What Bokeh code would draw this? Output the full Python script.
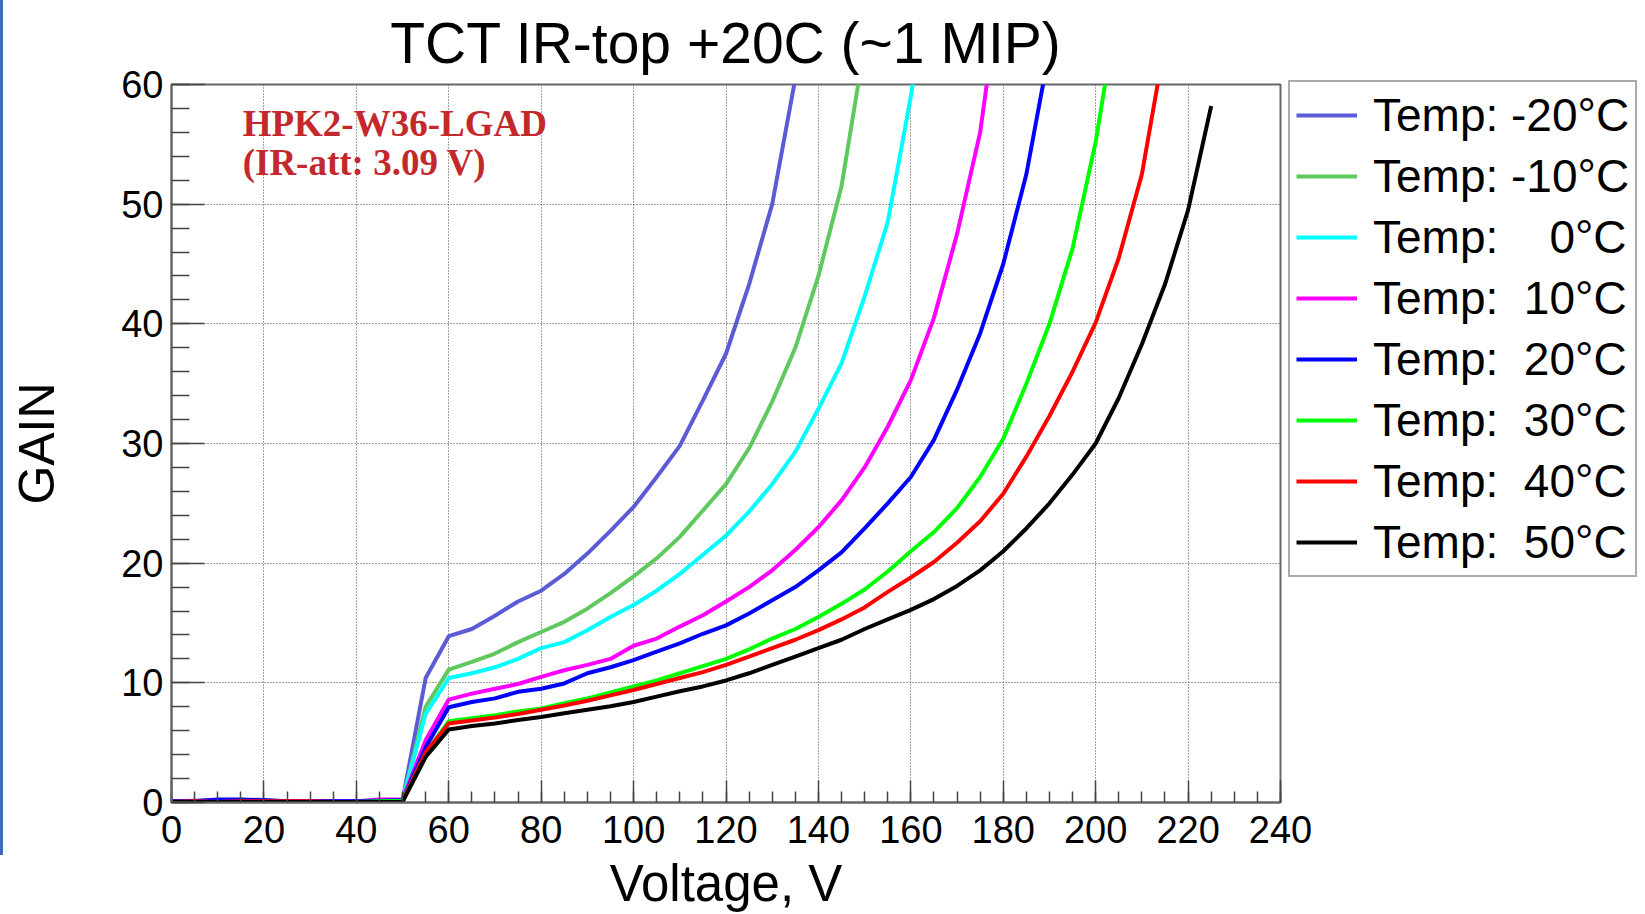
from bokeh.plotting import figure
from bokeh.models import Legend, LegendItem, Label, FixedTicker, Range1d, InlineStyleSheet
from bokeh.embed import file_html
from bokeh.resources import INLINE

# ---------------- data ----------------
TITLE = "TCT IR-top +20C (~1 MIP)"
X_LABEL = "Voltage, V"
Y_LABEL = "GAIN"
NOTE_1 = "HPK2-W36-LGAD"
NOTE_2 = "(IR-att: 3.09 V)"

VOLTAGE = [0, 5, 10, 15, 20, 25, 30, 35, 40, 45, 50, 55, 60, 65, 70, 75, 80, 85, 90, 95,
           100, 105, 110, 115, 120, 125, 130, 135, 140, 145, 150, 155, 160, 165, 170, 175,
           180, 185, 190, 195, 200, 205, 210, 215, 220, 225]

GAIN_M20 = [0.10, 0.15, 0.20, 0.15, 0.10, 0.10, 0.10, 0.10, 0.10, 0.15, 0.20,
            10.4, 13.9, 14.5, 15.6, 16.8, 17.7, 19.1, 20.8, 22.7, 24.7, 27.2, 29.8,
            33.6, 37.5, 43.3, 50.0, 60.5]
GAIN_M10 = [0.10, 0.10, 0.15, 0.10, 0.10, 0.10, 0.10, 0.10, 0.10, 0.15, 0.20,
            8.0, 11.1, 11.75, 12.45, 13.4, 14.25, 15.1, 16.2, 17.5, 18.9, 20.4, 22.2,
            24.4, 26.6, 29.6, 33.5, 38.0, 44.0, 51.5, 63.3]
GAIN_0 = [0.10, 0.10, 0.10, 0.10, 0.10, 0.10, 0.10, 0.10, 0.10, 0.15, 0.20,
          7.4, 10.4, 10.8, 11.3, 12.0, 12.9, 13.4, 14.4, 15.5, 16.5, 17.7, 19.1,
          20.7, 22.3, 24.3, 26.6, 29.3, 32.9, 36.7, 42.3, 48.5, 59.0, 72.0]
GAIN_P10 = [0.10, 0.10, 0.10, 0.10, 0.15, 0.10, 0.10, 0.10, 0.10, 0.25, 0.25,
            5.2, 8.6, 9.1, 9.5, 9.9, 10.5, 11.05, 11.5, 12.0, 13.1, 13.7, 14.7,
            15.65, 16.8, 18.0, 19.4, 21.1, 23.0, 25.25, 28.0, 31.4, 35.3, 40.5, 47.5,
            56.0, 70.0]
GAIN_P20 = [0.10, 0.10, 0.25, 0.25, 0.20, 0.10, 0.10, 0.10, 0.10, 0.15, 0.20,
            4.6, 7.96, 8.4, 8.7, 9.25, 9.5, 9.95, 10.8, 11.3, 11.9, 12.6, 13.3,
            14.1, 14.8, 15.8, 16.9, 18.0, 19.4, 20.9, 22.9, 25.0, 27.2, 30.3, 34.5,
            39.2, 45.0, 52.5, 62.9]
GAIN_P30 = [0.05, 0.05, 0.05, 0.05, 0.05, 0.05, 0.05, 0.05, 0.05, 0.10, 0.15,
            4.1, 6.8, 7.05, 7.3, 7.6, 7.85, 8.3, 8.7, 9.2, 9.7, 10.2, 10.8,
            11.4, 12.0, 12.8, 13.7, 14.5, 15.5, 16.6, 17.8, 19.3, 21.0, 22.6, 24.6,
            27.2, 30.4, 35.0, 40.0, 46.3, 55.2, 67.0]
GAIN_P40 = [0.05, 0.10, 0.05, 0.10, 0.10, 0.10, 0.10, 0.05, 0.05, 0.05, 0.05,
            4.2, 6.6, 6.85, 7.1, 7.4, 7.75, 8.1, 8.5, 8.95, 9.4, 9.9, 10.4,
            10.9, 11.5, 12.2, 12.9, 13.6, 14.4, 15.3, 16.3, 17.6, 18.8, 20.1, 21.7,
            23.5, 25.8, 28.9, 32.3, 36.0, 40.1, 45.5, 52.5, 63.5]
GAIN_P50 = [0.05, 0.05, 0.05, 0.05, 0.05, 0.05, 0.05, 0.05, 0.05, 0.05, 0.05,
            3.8, 6.1, 6.4, 6.6, 6.9, 7.15, 7.45, 7.75, 8.05, 8.4, 8.85, 9.3,
            9.7, 10.2, 10.8, 11.5, 12.2, 12.9, 13.6, 14.5, 15.3, 16.1, 17.0, 18.1,
            19.4, 21.0, 22.9, 25.0, 27.4, 30.0, 33.8, 38.3, 43.3, 49.5, 58.2]

NB = "\u00a0"
SERIES_LABELS = ["Temp: -20°C", "Temp: -10°C", "Temp:" + NB * 4 + "0°C",
                 "Temp:" + NB * 2 + "10°C", "Temp:" + NB * 2 + "20°C",
                 "Temp:" + NB * 2 + "30°C", "Temp:" + NB * 2 + "40°C",
                 "Temp:" + NB * 2 + "50°C"]
SERIES_GAINS = [GAIN_M20, GAIN_M10, GAIN_0, GAIN_P10, GAIN_P20, GAIN_P30, GAIN_P40, GAIN_P50]
SERIES_COLORS = ["#5b5bd6", "#5fc95f", "#00ffff", "#ff00ff", "#0000ff", "#00ff00", "#ff0000", "#000000"]

X_TICKS = [0, 20, 40, 60, 80, 100, 120, 140, 160, 180, 200, 220, 240]
X_MINOR = [v for v in VOLTAGE] + [230, 235, 240]
Y_TICKS = [0, 10, 20, 30, 40, 50, 60]
Y_MINOR = [0, 2, 4, 6, 8, 10, 12, 14, 16, 18, 20, 22, 24, 26, 28, 30, 32, 34, 36, 38,
           40, 42, 44, 46, 48, 50, 52, 54, 56, 58, 60]

FONT = "Liberation Sans"

# ---------------- figure ----------------
p = figure(frame_width=1109, frame_height=718,
           min_border_left=171, min_border_right=365, min_border_top=84, min_border_bottom=112,
           x_range=Range1d(0, 240), y_range=Range1d(0, 60),
           output_backend="svg", toolbar_location=None, title=TITLE)

p.background_fill_color = "white"
p.border_fill_color = "white"
p.outline_line_color = "#666666"
p.outline_line_width = 2

p.title.text_font = FONT
p.title.text_font_size = "57px"
p.title.text_font_style = "normal"
p.title.text_color = "black"
p.title.align = "center"
p.title.vertical_align = "top"
p.title.standoff = 16

xt = FixedTicker(ticks=X_TICKS, minor_ticks=X_MINOR)
yt = FixedTicker(ticks=Y_TICKS, minor_ticks=Y_MINOR)
p.xaxis.ticker = xt
p.yaxis.ticker = yt
p.xgrid.ticker = xt
p.ygrid.ticker = yt

for ax in (p.xaxis[0], p.yaxis[0]):
    ax.axis_line_color = "#666666"
    ax.axis_line_width = 2
    ax.major_tick_line_color = "#444444"
    ax.minor_tick_line_color = "#444444"
    ax.major_tick_line_width = 1.5
    ax.minor_tick_line_width = 1.5
    ax.major_tick_out = 0
    ax.minor_tick_out = 0
    ax.major_label_text_font = FONT
    ax.major_label_text_font_size = "38px"
    ax.major_label_text_color = "black"
    ax.axis_label_text_font = FONT
    ax.axis_label_text_font_style = "normal"
    ax.axis_label_text_color = "black"

p.xaxis.major_tick_in = 22
p.xaxis.minor_tick_in = 11
p.yaxis.major_tick_in = 33
p.yaxis.minor_tick_in = 18
p.xaxis.axis_label = X_LABEL
p.yaxis.axis_label = Y_LABEL
p.xaxis.axis_label_text_font_size = "51px"
p.yaxis.axis_label_text_font_size = "50px"
p.xaxis.major_label_standoff = 13
p.yaxis.major_label_standoff = 8
p.xaxis.axis_label_standoff = 9
p.yaxis.axis_label_standoff = 53

p.grid.grid_line_color = "#444444"
p.grid.grid_line_dash = "1 2"
p.grid.grid_line_width = 1

items = []
for lab, g, c in zip(SERIES_LABELS, SERIES_GAINS, SERIES_COLORS):
    r = p.line(VOLTAGE[:len(g)], g, line_color=c, line_width=4)
    items.append(LegendItem(label=lab, renderers=[r]))

legend = Legend(items=items, location=(8, 225))
legend.label_text_font = FONT
legend.label_text_font_size = "46px"
legend.label_text_color = "black"
legend.glyph_width = 61
legend.glyph_height = 50
legend.label_height = 50
legend.label_standoff = 16
legend.spacing = 7
legend.padding = 6
legend.margin = 0
legend.border_line_color = "#555555"
legend.border_line_width = 2
legend.background_fill_color = "white"
legend.background_fill_alpha = 1
p.add_layout(legend, "right")

p.add_layout(Label(x=15.4, y=56.7, text=NOTE_1, text_font="Liberation Serif",
                   text_font_style="bold", text_font_size="37px", text_color="#c3282c",
                   text_baseline="alphabetic"))
p.add_layout(Label(x=15.4, y=53.5, text=NOTE_2, text_font="Liberation Serif",
                   text_font_style="bold", text_font_size="37px", text_color="#c3282c",
                   text_baseline="alphabetic"))

p.stylesheets = [InlineStyleSheet(css=":host::after{content:'';position:absolute;left:0;top:0;"
                                      "width:3px;height:855px;background:#3d6cb4;z-index:10;}")]

open("out.html", "w").write(file_html(p, INLINE))
